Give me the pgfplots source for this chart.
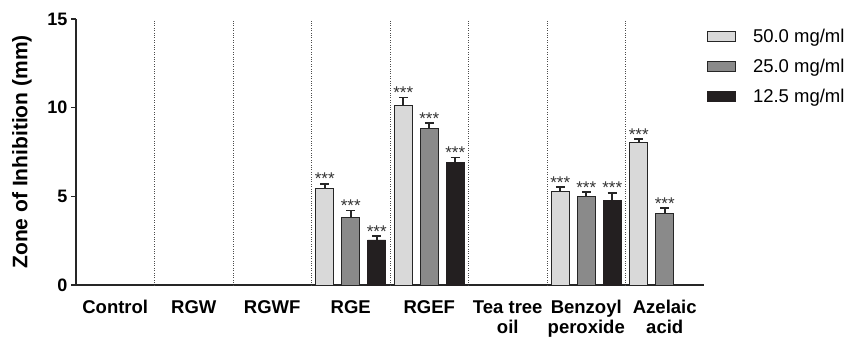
\documentclass[border=0pt]{standalone}
\usepackage{pgfplots}
\pgfplotsset{compat=1.18}
\usetikzlibrary{calc}
\usepackage{fontspec}
\setmainfont{Liberation Sans}
\definecolor{lightbar}{RGB}{217,217,217}
\definecolor{midbar}{RGB}{138,138,138}
\definecolor{darkbar}{RGB}{35,31,32}
\begin{document}
\begin{tikzpicture}
\begin{axis}[
  scale only axis,
  width=628pt, height=266pt,
  xmin=-0.5, xmax=7.5,
  ymin=0, ymax=15,
  axis lines=left,
  axis line style={-, line width=1.6pt, draw=black!85},
  ytick={0,5,10,15},
  ytick style={line width=1.6pt, draw=black!85},
  tick align=outside,
  major tick length=5pt,
  xtick={0,...,7},
  xtick style={draw=none},
  xticklabels={Control,RGW,RGWF,RGE,RGEF,{Tea tree\\oil},{Benzoyl\\peroxide},{Azelaic\\acid}},
  x tick label style={align=center, font=\bfseries\fontsize{18.5}{20}\selectfont, yshift=-7pt},
  y tick label style={font=\bfseries\fontsize{18}{20}\selectfont},
  /pgf/number format/assume math mode=true,
  ylabel={\bfseries Zone of Inhibition (mm)},
  ylabel style={font=\bfseries\fontsize{21}{23}\selectfont, at={($(rel axis cs:0,0.5)+(-54pt,0)$)}, anchor=center},
  extra x ticks={0.5,1.5,2.5,3.5,4.5,5.5,6.5},
  extra x tick labels={},
  extra x tick style={grid=major, major grid style={dotted, black!70, line width=0.7pt}, tick style={draw=none}},
  legend cell align=left,
  legend style={at={(1,1)}, anchor=north west, xshift=3pt, yshift=-10pt, draw=none, fill=none,
    inner sep=0pt, nodes={inner sep=0pt},
    font=\fontsize{18.5}{20}\selectfont, row sep=15pt,
    /tikz/every odd column/.append style={column sep=17pt}},
  legend image code/.code={\draw[#1, line width=0.8pt] (0pt,-5pt) rectangle (28pt,5pt);},
  every node near coord/.style={anchor=base, yshift=-1pt, font=\fontsize{17}{17}\selectfont, text=black!80},
  clip=false,
]
\coordinate (O) at (rel axis cs:0,0);
\addplot[ybar, bar width=18pt, fill=lightbar, draw=black!85, line width=0.9pt,
  error bars/.cd, y dir=plus, y explicit,
  error bar style={line width=1.6pt, draw=black!85},
  error mark options={rotate=90, mark size=4.5pt, line width=1.6pt, draw=black!85}]
  coordinates {(2.669,5.45) +- (0,0.25) (3.669,10.11) +- (0,0.46) (5.669,5.30) +- (0,0.21) (6.669,8.05) +- (0,0.18)};
\addlegendentry{50.0 mg/ml}
\addplot[ybar, bar width=18pt, fill=midbar, draw=black!85, line width=0.9pt,
  error bars/.cd, y dir=plus, y explicit,
  error bar style={line width=1.6pt, draw=black!85},
  error mark options={rotate=90, mark size=4.5pt, line width=1.6pt, draw=black!85}]
  coordinates {(3,3.83) +- (0,0.37) (4,8.84) +- (0,0.28) (6,5.00) +- (0,0.23) (7,4.02) +- (0,0.32)};
\addlegendentry{25.0 mg/ml}
\addplot[ybar, bar width=18pt, fill=darkbar, draw=darkbar, line width=0.9pt,
  error bars/.cd, y dir=plus, y explicit,
  error bar style={line width=1.6pt, draw=black!85},
  error mark options={rotate=90, mark size=4.5pt, line width=1.6pt, draw=black!85}]
  coordinates {(3.331,2.54) +- (0,0.21) (4.331,6.92) +- (0,0.26) (6.331,4.79) +- (0,0.40)};
\addlegendentry{12.5 mg/ml}
\addplot[draw=none, mark=none, nodes near coords={***}, forget plot]
  coordinates {(2.669,5.70) (3.669,10.57) (5.669,5.51) (6.669,8.23)
               (3,4.20) (4,9.12) (6,5.23) (7,4.34)
               (3.331,2.75) (4.331,7.18) (6.331,5.19)};
\end{axis}
\pgfresetboundingbox
\path (O) ++(-76pt,-52pt) rectangle ++(850pt,337pt);
\end{tikzpicture}
\end{document}
